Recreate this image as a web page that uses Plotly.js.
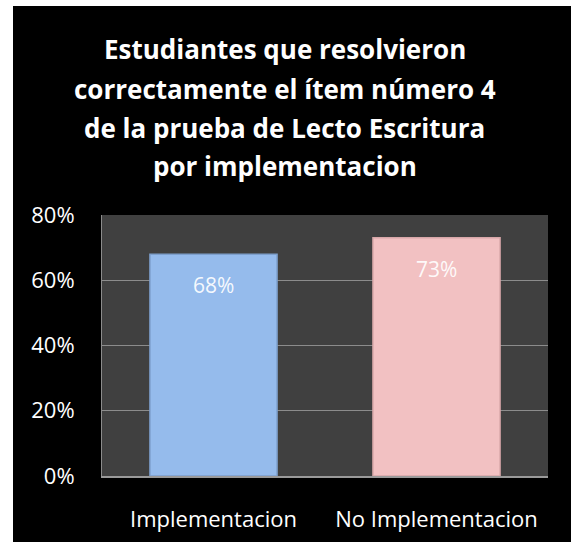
<!DOCTYPE html>
<html>
<head>
<meta charset="utf-8">
<script src="https://cdn.plot.ly/plotly-3.0.1.min.js"></script>
<style>
  html, body { margin: 0; padding: 0; background: #ffffff; width: 571px; height: 542px; overflow: hidden; }
  #chart { position: absolute; left: 13px; top: 6px; width: 558px; height: 536px; }
</style>
</head>
<body>
<div id="chart"></div>
<script>
const titleLines = [
  "Estudiantes que resolvieron",
  "correctamente el ítem número 4",
  "de la prueba de Lecto Escritura",
  "por implementacion"
];
const categories = ["Implementacion", "No Implementacion"];
const values = [0.68, 0.73];
const valueLabels = ["68%", "73%"];
const barColors = ["#95bbec", "#f2c1c2"];
const barEdgeColors = ["#7d9fcc", "#d8a7a9"];
const yTickVals = [0, 0.2, 0.4, 0.6, 0.8];
const yTickText = ["0%", "20%", "40%", "60%", "80%"];

const trace = {
  type: "bar",
  x: categories,
  y: values,
  marker: { color: barColors, line: { color: barEdgeColors, width: 1.5 } },
  hoverinfo: "skip",
  showlegend: false
};

const titleShifts = [166, 126, 87, 49];
const annotations = [];
titleLines.forEach((t, i) => {
  annotations.push({
    text: "<b>" + t + "</b>",
    xref: "paper", yref: "paper",
    x: 0.41, y: 1, xanchor: "center", yanchor: "middle",
    yshift: titleShifts[i],
    showarrow: false,
    font: { family: "Open Sans, sans-serif", size: 26, color: "#ffffff" }
  });
});
categories.forEach((c, i) => {
  annotations.push({
    text: valueLabels[i],
    x: c, y: values[i], xref: "x", yref: "y",
    xanchor: "center", yanchor: "middle",
    yshift: -31,
    showarrow: false,
    font: { family: "Open Sans, sans-serif", size: 21, color: "rgba(255,255,255,0.92)" }
  });
});

const layout = {
  width: 558, height: 536,
  paper_bgcolor: "#000000",
  plot_bgcolor: "#404040",
  margin: { l: 89, r: 23, t: 209, b: 66 },
  bargap: 0.43,
  font: { family: "Open Sans, sans-serif", color: "#ffffff", size: 22 },
  xaxis: {
    type: "category",
    showgrid: false,
    showline: true, linecolor: "#9a9a9a", linewidth: 2,
    ticks: "", ticklabelstandoff: 23,
    tickfont: { family: "Open Sans, sans-serif", size: 22, color: "#ffffff" },
    fixedrange: true
  },
  yaxis: {
    range: [0, 0.8],
    tickvals: yTickVals, ticktext: yTickText,
    showgrid: true, gridcolor: "#8c8c8c", gridwidth: 1,
    showline: true, linecolor: "#8c8c8c", linewidth: 1,
    zeroline: false,
    ticks: "", ticklabelstandoff: 22,
    tickfont: { family: "Open Sans, sans-serif", size: 22, color: "#ffffff" },
    fixedrange: true
  },
  annotations: annotations
};

Plotly.newPlot("chart", [trace], layout, { displayModeBar: false, staticPlot: true });
</script>
</body>
</html>
